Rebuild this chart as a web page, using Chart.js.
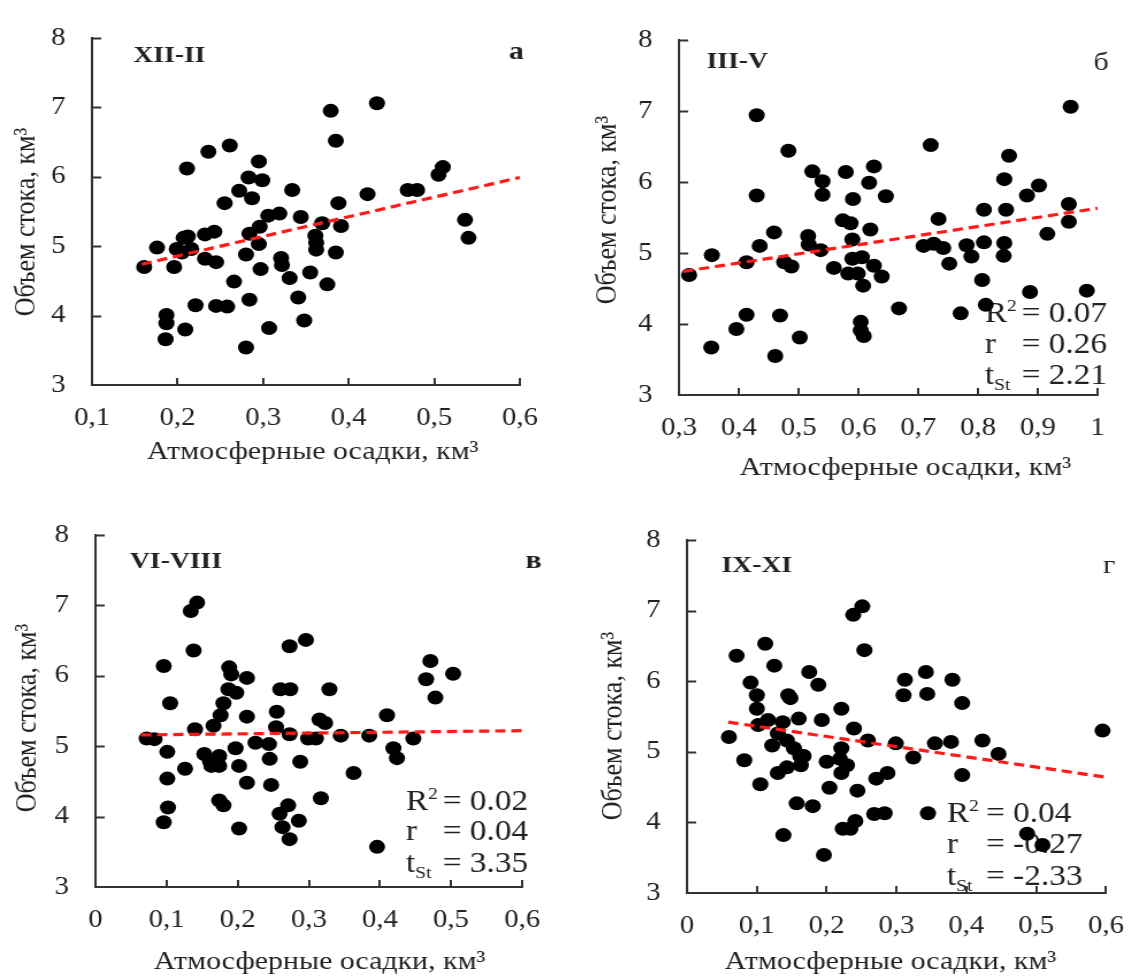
<!DOCTYPE html>
<html>
<head>
<meta charset="utf-8">
<script src="https://cdn.jsdelivr.net/npm/chart.js@4.4.1/dist/chart.umd.min.js"></script>
<style>
  html, body { margin: 0; padding: 0; background: #fff; }
  #page { position: relative; width: 1145px; height: 976px; overflow: hidden; }
  /* the reference picture is stretched horizontally, so each panel is too */
  .panel { position: absolute; transform-origin: 0 0; transform: scaleX(1.15); }
  canvas { display: block; }
</style>
</head>
<body>
<div id="page">
  <div class="panel" style="left:0;top:0"><canvas id="cA" width="497" height="488"></canvas></div>
  <div class="panel" style="left:572px;top:0"><canvas id="cB" width="498" height="488"></canvas></div>
  <div class="panel" style="left:0;top:488px"><canvas id="cC" width="497" height="488"></canvas></div>
  <div class="panel" style="left:572px;top:488px"><canvas id="cD" width="498" height="488"></canvas></div>
</div>
<script>
// а: XII-II
const precipA = [0.161, 0.176, 0.196, 0.199, 0.205, 0.207, 0.212, 0.216, 0.211, 0.187, 0.187, 0.186, 0.209, 0.221, 0.236, 0.232, 0.243, 0.232, 0.245, 0.245, 0.258, 0.255, 0.261, 0.266, 0.272, 0.283, 0.287, 0.284, 0.280, 0.284, 0.280, 0.295, 0.299, 0.296, 0.295, 0.297, 0.307, 0.306, 0.319, 0.321, 0.322, 0.331, 0.334, 0.344, 0.341, 0.348, 0.355, 0.361, 0.362, 0.362, 0.369, 0.375, 0.379, 0.385, 0.388, 0.385, 0.391, 0.422, 0.433, 0.469, 0.480, 0.505, 0.510, 0.536, 0.540];
const runoffA = [4.70, 4.98, 4.70, 4.96, 4.91, 5.12, 5.14, 4.96, 6.12, 4.01, 3.89, 3.66, 3.80, 4.15, 6.36, 5.17, 5.21, 4.82, 4.77, 4.14, 4.13, 5.62, 6.45, 4.49, 5.80, 5.99, 5.69, 5.18, 4.88, 4.23, 3.54, 6.22, 5.95, 5.28, 5.03, 4.67, 3.82, 5.44, 5.47, 4.83, 4.73, 4.54, 5.81, 5.42, 4.26, 3.93, 4.62, 5.15, 5.05, 4.95, 5.33, 4.45, 6.95, 6.52, 5.62, 4.91, 5.29, 5.75, 7.06, 5.81, 5.81, 6.03, 6.14, 5.38, 5.12];
const trendA = [[0.158, 4.74], [0.6, 5.99]];

// б: III-V
const precipB = [0.317, 0.355, 0.354, 0.396, 0.413, 0.413, 0.435, 0.430, 0.430, 0.459, 0.461, 0.469, 0.476, 0.488, 0.483, 0.502, 0.516, 0.517, 0.523, 0.540, 0.540, 0.537, 0.559, 0.579, 0.574, 0.587, 0.591, 0.590, 0.583, 0.590, 0.599, 0.606, 0.608, 0.604, 0.604, 0.609, 0.618, 0.620, 0.626, 0.626, 0.639, 0.646, 0.668, 0.709, 0.721, 0.726, 0.734, 0.742, 0.752, 0.771, 0.781, 0.789, 0.807, 0.810, 0.810, 0.813, 0.844, 0.844, 0.843, 0.847, 0.852, 0.882, 0.887, 0.902, 0.916, 0.952, 0.952, 0.955, 0.982];
const runoffB = [4.69, 4.97, 3.67, 3.93, 4.13, 4.87, 5.10, 5.81, 6.94, 5.29, 3.55, 4.12, 4.87, 4.81, 6.44, 3.81, 5.24, 5.12, 6.15, 6.01, 5.82, 5.04, 4.79, 6.14, 5.46, 5.42, 5.76, 5.19, 4.71, 4.92, 4.71, 4.94, 4.54, 4.03, 3.91, 3.83, 5.99, 5.33, 6.22, 4.82, 4.67, 5.80, 4.22, 5.10, 6.52, 5.13, 5.48, 5.07, 4.85, 4.15, 5.11, 4.95, 4.62, 5.61, 5.15, 4.27, 6.04, 5.14, 4.96, 5.61, 6.37, 5.81, 4.45, 5.95, 5.27, 5.69, 5.44, 7.06, 4.47];
const trendB = [[0.307, 4.74], [1.0, 5.63]];
const statsB = ['0.07', '0.26', '2.21'];

// в: VI-VIII
const precipC = [0.072, 0.083, 0.096, 0.096, 0.101, 0.101, 0.102, 0.105, 0.126, 0.134, 0.143, 0.138, 0.140, 0.153, 0.161, 0.166, 0.174, 0.174, 0.163, 0.174, 0.180, 0.176, 0.180, 0.187, 0.188, 0.191, 0.198, 0.197, 0.202, 0.202, 0.213, 0.213, 0.213, 0.225, 0.244, 0.245, 0.247, 0.255, 0.254, 0.259, 0.263, 0.271, 0.273, 0.260, 0.274, 0.273, 0.273, 0.286, 0.288, 0.296, 0.299, 0.310, 0.315, 0.323, 0.317, 0.329, 0.345, 0.363, 0.385, 0.396, 0.410, 0.419, 0.424, 0.447, 0.465, 0.471, 0.478, 0.503];
const runoffC = [5.11, 5.10, 6.14, 3.92, 4.92, 4.54, 4.13, 5.61, 4.68, 6.92, 7.04, 6.36, 5.24, 4.89, 4.79, 5.29, 4.86, 4.72, 4.72, 4.23, 4.16, 5.44, 5.61, 5.81, 6.12, 6.02, 5.76, 4.97, 4.72, 3.83, 5.97, 5.42, 4.48, 5.05, 5.03, 4.82, 4.45, 5.49, 5.27, 4.04, 3.85, 4.16, 3.68, 5.81, 5.81, 6.42, 5.17, 3.94, 4.78, 6.51, 5.11, 5.11, 5.38, 5.33, 4.26, 5.81, 5.15, 4.62, 5.15, 3.57, 5.44, 4.97, 4.83, 5.11, 5.95, 6.21, 5.69, 6.03];
const trendC = [[0.064, 5.16], [0.6, 5.22]];
const statsC = ['0.02', '0.04', '3.35'];

// г: IX-XI
const precipD = [0.060, 0.071, 0.082, 0.091, 0.100, 0.100, 0.102, 0.105, 0.112, 0.116, 0.125, 0.137, 0.122, 0.130, 0.130, 0.143, 0.138, 0.143, 0.145, 0.148, 0.153, 0.157, 0.160, 0.162, 0.163, 0.167, 0.175, 0.180, 0.188, 0.193, 0.196, 0.200, 0.204, 0.221, 0.221, 0.219, 0.221, 0.223, 0.229, 0.234, 0.239, 0.241, 0.238, 0.251, 0.254, 0.244, 0.259, 0.268, 0.271, 0.283, 0.287, 0.299, 0.312, 0.310, 0.324, 0.342, 0.344, 0.345, 0.355, 0.378, 0.380, 0.394, 0.394, 0.423, 0.446, 0.487, 0.509, 0.595];
const runoffD = [5.21, 6.36, 4.88, 5.98, 5.80, 5.61, 5.38, 4.54, 6.53, 5.45, 6.22, 5.42, 5.09, 5.26, 4.70, 4.78, 3.82, 5.16, 5.80, 5.76, 5.05, 4.27, 5.47, 4.94, 4.81, 4.94, 6.13, 4.23, 5.95, 5.45, 3.54, 4.86, 4.49, 5.61, 5.05, 4.90, 4.70, 3.91, 4.81, 3.91, 5.33, 4.02, 6.94, 7.06, 6.44, 4.45, 5.16, 4.12, 4.62, 4.13, 4.70, 5.12, 6.02, 5.80, 4.92, 6.13, 5.82, 4.13, 5.12, 5.14, 6.02, 4.67, 5.69, 5.16, 4.97, 3.84, 3.68, 5.30];
const trendD = [[0.059, 5.42], [0.6, 4.64]];
const statsD = ['0.04', '-0.27', '-2.33'];

const yTicks = [3, 8];
const xTitle = 'Атмосферные осадки, км³';
const yTitle = 'Объем стока, км³';

const serif = '"Liberation Serif", "Times New Roman", serif';
const ink = '#222';
const axisColor = '#333';

const panels = [
  { id: 'cA', x: precipA, y: runoffA, trend: trendA, xMin: 0.1, xMax: 0.6,
    area: { l: 80, t: 24, r: 452, b: 385 },
    label: 'XII-II', labelAt: [116, 62], letter: 'а', letterAt: [449, 59], letterBold: true,
    xTitleAt: [272, 452], yTitleAt: [23.5, 222] },
  { id: 'cB', x: precipB, y: runoffB, trend: trendB, xMin: 0.3, xMax: 1.0,
    area: { l: 93, t: 40, r: 457, b: 395 },
    label: 'III-V', labelAt: [117, 68], letter: 'б', letterAt: [460, 70], letterBold: false,
    xTitleAt: [290, 468], yTitleAt: [30.7, 210],
    stats: statsB, statsAt: { x: 359, eq: 391, rows: [322, 353, 384] } },
  { id: 'cC', x: precipC, y: runoffC, trend: trendC, xMin: 0, xMax: 0.6,
    area: { l: 83, t: 47, r: 454, b: 399 },
    label: 'VI-VIII', labelAt: [113, 80], letter: 'в', letterAt: [464, 80], letterBold: true,
    xTitleAt: [278, 474], yTitleAt: [24, 230],
    stats: statsC, statsAt: { x: 353, eq: 385, rows: [322, 352, 384] } },
  { id: 'cD', x: precipD, y: runoffD, trend: trendD, xMin: 0, xMax: 0.6,
    area: { l: 100, t: 52, r: 479, b: 405 },
    label: 'IX-XI', labelAt: [130, 84], letter: 'г', letterAt: [467, 85], letterBold: false,
    xTitleAt: [277, 474], yTitleAt: [36.5, 238],
    stats: statsD, statsAt: { x: 326, eq: 360, rows: [334, 365, 397] } }
];

function fmtX(v) {
  const r = Math.round(v * 10) / 10;
  return Number.isInteger(r) ? String(r) : r.toFixed(1).replace('.', ',');
}

function makeDecor(p) {
  return {
    id: 'decor',
    beforeDatasetsDraw(chart) {
      const ctx = chart.ctx;
      ctx.save();
      ctx.fillStyle = ink;
      ctx.textBaseline = 'alphabetic';
      ctx.textAlign = 'left';
      ctx.font = 'bold 24px ' + serif;
      ctx.fillText(p.label, p.labelAt[0], p.labelAt[1]);
      ctx.textAlign = 'center';
      ctx.font = (p.letterBold ? 'bold ' : '') + '26px ' + serif;
      ctx.fillText(p.letter, p.letterAt[0], p.letterAt[1]);

      ctx.font = '26px ' + serif;
      ctx.textBaseline = 'middle';
      ctx.fillText(xTitle, p.xTitleAt[0], p.xTitleAt[1]);
      ctx.save();
      ctx.translate(p.yTitleAt[0], p.yTitleAt[1]);
      ctx.rotate(-Math.PI / 2);
      ctx.fillText(yTitle, 0, 0);
      ctx.restore();

      if (p.stats) {
        const s = p.statsAt;
        ctx.textAlign = 'left';
        ctx.textBaseline = 'alphabetic';
        ctx.font = '29px ' + serif;
        ctx.fillText('R', s.x, s.rows[0]);
        const rw = ctx.measureText('R').width;
        ctx.fillText('r', s.x, s.rows[1]);
        ctx.fillText('t', s.x, s.rows[2]);
        const tw = ctx.measureText('t').width;
        for (let i = 0; i < 3; i++) ctx.fillText('= ' + p.stats[i], s.eq, s.rows[i]);
        ctx.font = '17px ' + serif;
        ctx.fillText('2', s.x + rw, s.rows[0] - 11);
        ctx.fillText('St', s.x + tw, s.rows[2] + 6);
      }
      ctx.restore();
    },
    afterDraw(chart) {
      // short ticks pointing into the plot
      const ctx = chart.ctx;
      const xs = chart.scales.x, ys = chart.scales.y;
      ctx.save();
      ctx.strokeStyle = axisColor;
      ctx.lineWidth = 2;
      ctx.beginPath();
      ys.ticks.forEach((t) => {
        if (t.value === ys.min) return;
        const py = Math.round(ys.getPixelForValue(t.value)) + 0.5;
        ctx.moveTo(xs.left, py);
        ctx.lineTo(xs.left + 8, py);
      });
      xs.ticks.forEach((t) => {
        if (t.value === xs.min) return;
        const px = Math.round(xs.getPixelForValue(t.value));
        ctx.moveTo(px, ys.bottom);
        ctx.lineTo(px, ys.bottom - 7);
      });
      ctx.stroke();
      ctx.restore();
    }
  };
}

panels.forEach((p) => {
  const canvas = document.getElementById(p.id);
  const W = canvas.width, H = canvas.height;
  const points = p.x.map((v, i) => ({ x: v, y: p.y[i] }));
  const trend = p.trend.map((d) => ({ x: d[0], y: d[1] }));
  new Chart(canvas, {
    type: 'scatter',
    data: {
      datasets: [
        {
          data: trend,
          showLine: true,
          borderColor: '#ff1a1a',
          borderWidth: 3.2,
          borderDash: [9, 5],
          pointRadius: 0,
          order: 0,
          clip: false
        },
        {
          data: points,
          backgroundColor: '#000',
          borderWidth: 0,
          pointRadius: 7,
          pointHoverRadius: 7,
          order: 1,
          clip: false
        }
      ]
    },
    options: {
      responsive: false,
      animation: false,
      devicePixelRatio: 1,
      events: [],
      layout: { padding: { left: 0, top: p.area.t, right: W - p.area.r, bottom: 0 } },
      plugins: { legend: { display: false }, tooltip: { enabled: false } },
      scales: {
        x: {
          type: 'linear',
          min: p.xMin,
          max: p.xMax,
          afterFit: (scale) => { scale.height = H - p.area.b; },
          grid: { display: false, drawTicks: false },
          border: { display: true, color: axisColor, width: 2 },
          ticks: {
            stepSize: 0.1,
            padding: 18,
            color: ink,
            maxRotation: 0,
            font: { family: serif, size: 25 },
            callback: (v) => fmtX(v)
          }
        },
        y: {
          type: 'linear',
          min: yTicks[0],
          max: yTicks[1],
          afterFit: (scale) => { scale.width = p.area.l; },
          grid: { display: false, drawTicks: false },
          border: { display: true, color: axisColor, width: 2 },
          ticks: {
            stepSize: 1,
            padding: 23,
            color: ink,
            font: { family: serif, size: 25 }
          }
        }
      }
    },
    plugins: [makeDecor(p)]
  });
});
</script>
</body>
</html>
